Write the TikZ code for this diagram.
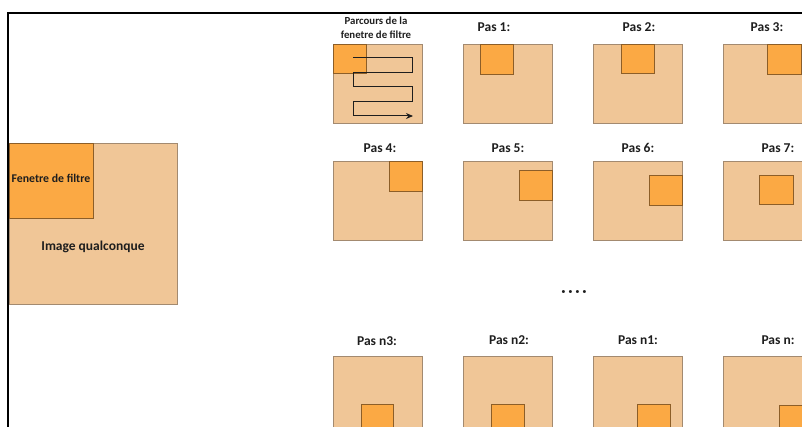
\documentclass[tikz,border=0pt]{standalone}
\usepackage{fontspec}
\setmainfont{Carlito}
\usetikzlibrary{arrows.meta}
\definecolor{tan}{HTML}{F0C697}
\definecolor{orng}{HTML}{FBA944}
\definecolor{outb}{HTML}{A38A70}
\definecolor{inb}{HTML}{8C5E28}
\definecolor{txt}{HTML}{1E1E1E}
\tikzset{
  bigsq/.style={draw=outb, fill=tan, line width=0.9pt, rectangle, inner sep=0pt, outer sep=0pt, anchor=north west, minimum width=89pt, minimum height=79pt},
  win/.style={draw=inb, fill=orng, line width=0.9pt, rectangle, inner sep=0pt, outer sep=0pt, anchor=north west},
  lbl/.style={text=txt, font=\bfseries\fontsize{13.5}{15}\selectfont, inner sep=0pt},
  smalllbl/.style={text=txt, font=\bfseries\fontsize{10.8}{14}\selectfont, inner sep=0pt, align=center},
  pathline/.style={draw=txt, line width=1pt}
}
\begin{document}
\begin{tikzpicture}[x=1pt, y=-1pt]
\useasboundingbox (0,0) rectangle (802,427);
\begin{scope}
\clip (0,0) rectangle (802,427);
% frame
\draw[line width=2pt, black] (8,440) -- (8,13) -- (820,13);
% left big image
\node[draw=outb, fill=tan, line width=0.9pt, rectangle, inner sep=0pt, anchor=north west, minimum width=168pt, minimum height=161pt] (img) at (9,143) {};
\node[win, minimum width=84pt, minimum height=75pt] (fen) at (9,143) {};
\node[text=txt, font=\bfseries\fontsize{11.8}{13}\selectfont, inner sep=0pt] (fenl) at (51,178) {Fenetre de filtre};
\node[lbl] (imgl) at (93,247) {Image qualconque};
% row 1
\node[bigsq] (s0) at (333,44) {};
\node[bigsq] (s1) at (463,44) {};
\node[bigsq] (s2) at (593,44) {};
\node[bigsq] (s3) at (723,44) {};
\node[win, minimum width=33pt, minimum height=29pt] (w0) at (333,44) {};
\node[win, minimum width=33pt, minimum height=30pt] (w1) at (480,44) {};
\node[win, minimum width=33pt, minimum height=29pt] (w2) at (621,44) {};
\node[win, minimum width=34pt, minimum height=30pt] (w3) at (767,44) {};
% parcours path
\coordinate (p0) at (353,58);
\coordinate (p1) at (412,58);
\coordinate (p2) at (412,73);
\coordinate (p3) at (353,73);
\coordinate (p4) at (353,87);
\coordinate (p5) at (412,87);
\coordinate (p6) at (412,102);
\coordinate (p7) at (353,102);
\coordinate (p8) at (353,116);
\coordinate (p9) at (413,116);
\draw[pathline, -{Stealth[length=7pt, width=6pt]}] (p0) -- (p1) -- (p2) -- (p3) -- (p4) -- (p5) -- (p6) -- (p7) -- (p8) -- (p9);
% row 2
\node[bigsq] (s4) at (333,161) {};
\node[bigsq] (s5) at (463,161) {};
\node[bigsq] (s6) at (593,161) {};
\node[bigsq] (s7) at (723,161) {};
\node[win, minimum width=33pt, minimum height=30pt] (w4) at (389,161) {};
\node[win, minimum width=33pt, minimum height=30pt] (w5) at (519,170) {};
\node[win, minimum width=33pt, minimum height=30pt] (w6) at (649,175) {};
\node[win, minimum width=34pt, minimum height=29pt] (w7) at (759,175) {};
% row 3
\node[bigsq] (s8) at (333,356) {};
\node[bigsq] (s9) at (463,356) {};
\node[bigsq] (s10) at (593,356) {};
\node[bigsq] (s11) at (723,356) {};
\node[win, minimum width=32pt, minimum height=31pt] (w8) at (361,404) {};
\node[win, minimum width=33pt, minimum height=31pt] (w9) at (491,404) {};
\node[win, minimum width=33pt, minimum height=31pt] (w10) at (637,404) {};
\node[win, minimum width=33pt, minimum height=31pt] (w11) at (779,405) {};
% labels
\node[smalllbl] (l0) at (376,28) {Parcours de la\\fenetre de filtre};
\node[lbl] (l1) at (494,27) {Pas 1:};
\node[lbl] (l2) at (639,27) {Pas 2:};
\node[lbl] (l3) at (767,27) {Pas 3:};
\node[lbl] (l4) at (380,148) {Pas 4:};
\node[lbl] (l5) at (508,148) {Pas 5:};
\node[lbl] (l6) at (638,148) {Pas 6:};
\node[lbl] (l7) at (778,148) {Pas 7:};
\node[lbl] (l8) at (377,341) {Pas n3:};
\node[lbl] (l9) at (509,340) {Pas n2:};
\node[lbl] (l10) at (638,340) {Pas n1:};
\node[lbl] (l11) at (778,340) {Pas n:};
\node[lbl, font=\bfseries\fontsize{16}{16}\selectfont] (dots) at (574,294) {·\,·\,·\,·};
\end{scope}
\end{tikzpicture}
\end{document}
